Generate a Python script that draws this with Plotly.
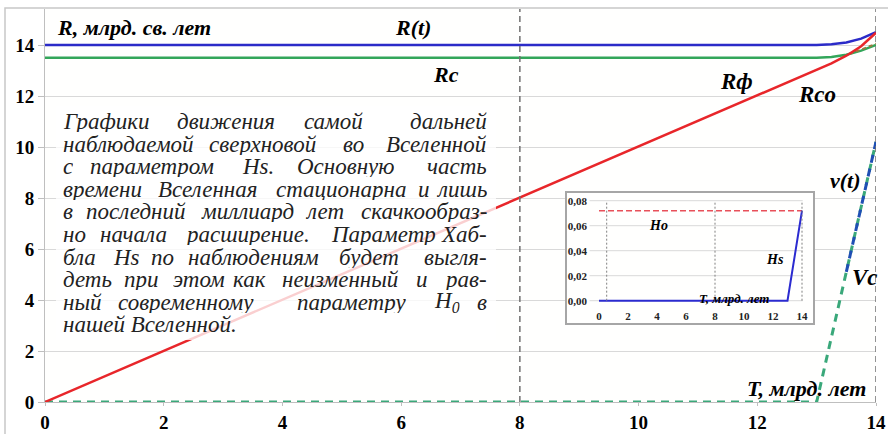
import plotly.graph_objects as go

W, H = 888, 434

# ---------------- data ----------------
t = [0, 1, 2, 3, 4, 5, 6, 7, 8, 9, 10, 11, 12, 13, 13.25, 13.5, 13.75, 14]
R_t = [14, 14, 14, 14, 14, 14, 14, 14, 14, 14, 14, 14, 14, 14.0, 14.03, 14.1, 14.25, 14.5]
Rc = [13.5, 13.5, 13.5, 13.5, 13.5, 13.5, 13.5, 13.5, 13.5, 13.5, 13.5, 13.5, 13.5, 13.5, 13.53, 13.62, 13.78, 14.0]
Rf = [0, 1, 2, 3, 4, 5, 6, 7, 8, 9, 10, 11, 12, 13.02, 13.28, 13.58, 13.95, 14.48]
Rco_t = [13.55, 13.75, 14]
Rco = [13.64, 13.82, 14.05]
Vc = [0, 0, 0, 0, 0, 0, 0, 0, 0, 0, 0, 0, 0, 0, 2.55, 5.1, 7.65, 10.2]
v_t = [None, None, None, None, None, None, None, None, None, None, None, None, None, None, None, 5.1, 7.65, 10.2]

x_ticks = [0, 2, 4, 6, 8, 10, 12, 14]
y_ticks = [0, 2, 4, 6, 8, 10, 12, 14]

# inset data
ti = [0, 2, 4, 6, 8, 10, 12, 13, 14]
Hs = [0, 0, 0, 0, 0, 0, 0, 0, 0.072]
H0_t = [0, 14]
H0 = [0.072, 0.072]
inset_x_ticks = [0, 2, 4, 6, 8, 10, 12, 14]
inset_y_ticks = [0.0, 0.02, 0.04, 0.06, 0.08]
inset_y_labels = ["0,00", "0,02", "0,04", "0,06", "0,08"]

text_lines = [
    "Графики движения самой дальней",
    "наблюдаемой сверхновой во Вселенной",
    "с параметром Hs. Основную часть",
    "времени Вселенная стационарна и лишь",
    "в последний миллиард лет скачкообраз-",
    "но начала расширение. Параметр Хаб-",
    "бла Hs по наблюдениям будет выгля-",
    "деть при этом как неизменный и рав-",
    "ный современному параметру H<sub>0</sub> в",
    "нашей Вселенной.",
]

# ---------------- helpers (pixel -> paper) ----------------
def px(x):
    return x / W

def py(y):
    return 1 - y / H

SERIF = "Liberation Serif"
BLUE = "#2b2bc8"
GREEN = "#33a65a"
RED = "#e8262a"
DGREEN = "#3aa87a"
DBLUE = "#1f4fb4"

fig = go.Figure()

# main traces
fig.add_trace(go.Scatter(x=t, y=Vc, mode="lines", line=dict(color=DGREEN, width=3, dash="8px,6px"), name="Vc"))
fig.add_trace(go.Scatter(x=t, y=v_t, mode="lines", line=dict(color=DBLUE, width=3, dash="8px,6px"), name="v(t)"))
fig.add_trace(go.Scatter(x=t, y=Rc, mode="lines", line=dict(color=GREEN, width=2.5), name="Rc"))
fig.add_trace(go.Scatter(x=t, y=R_t, mode="lines", line=dict(color=BLUE, width=2.5), name="R(t)"))
fig.add_trace(go.Scatter(x=Rco_t, y=Rco, mode="lines", line=dict(color="#9a7a40", width=2, dash="4px,3px"), name="Rco"))
fig.add_trace(go.Scatter(x=t, y=Rf, mode="lines", line=dict(color=RED, width=2.5), name="Rf"))

# inset gridlines (built from tick values)
gx, gy = [], []
for v in inset_y_ticks:
    gx += [-0.65, 14.05, None]
    gy += [v, v, None]
fig.add_trace(go.Scatter(x=gx, y=gy, mode="lines", line=dict(color="#d9d9d9", width=1),
                         xaxis="x2", yaxis="y2", hoverinfo="skip"))
fig.add_trace(go.Scatter(x=H0_t, y=H0, mode="lines", line=dict(color="#e8505a", width=1.5, dash="6px,3px"),
                         xaxis="x2", yaxis="y2"))
fig.add_trace(go.Scatter(x=ti, y=Hs, mode="lines", line=dict(color="#2b2bd0", width=2),
                         xaxis="x2", yaxis="y2"))

# ---------------- layout ----------------
tickfont = dict(family=SERIF, size=19, color="black")
itickfont = dict(family=SERIF, size=11, color="#222")
fig.update_layout(
    width=W, height=H,
    margin=dict(l=0, r=0, t=0, b=0, autoexpand=False),
    paper_bgcolor="white",
    plot_bgcolor="#fffffe",
    showlegend=False,
    xaxis=dict(domain=[px(45), px(876)], range=[0, 14], tickvals=x_ticks,
               ticktext=[f"<b>{v}</b>" for v in x_ticks], showgrid=False, automargin=False,
               zeroline=False, showline=True, linecolor="#bfbfbf", linewidth=1,
               ticks="outside", ticklen=3, tickcolor="#bfbfbf", tickfont=tickfont),
    yaxis=dict(domain=[py(402), py(9)], range=[0, 393 / 25.5], tickvals=y_ticks,
               ticktext=[f"<b>{v}</b>" for v in y_ticks], showgrid=True, automargin=False,
               gridcolor="#d9d9d9", gridwidth=1, zeroline=False, showline=True, linecolor="#bfbfbf",
               ticks="outside", ticklen=6, tickcolor="#bfbfbf", tickfont=tickfont),
    xaxis2=dict(domain=[px(567), px(813)], range=[-(599 - 567) / 14.5, (813 - 599) / 14.5],
                anchor="y2", tickvals=inset_x_ticks, ticktext=[f"<b>{v}</b>" for v in inset_x_ticks],
                showgrid=False, zeroline=False, automargin=False,
                showline=True, mirror=True, linecolor="#a6a6a6", linewidth=2, ticks="",
                ticklabelposition="inside", tickfont=itickfont),
    yaxis2=dict(domain=[py(323), py(193)], range=[-(323 - 300.7) / 1250, (300.7 - 193) / 1250],
                anchor="x2", tickvals=inset_y_ticks, ticktext=[f"<b>{s}</b>" for s in inset_y_labels],
                showgrid=False, zeroline=False, automargin=False,
                showline=True, mirror=True, linecolor="#a6a6a6", linewidth=2, ticks="",
                ticklabelposition="inside", tickfont=itickfont),
)

shapes = []
# outer chart border
shapes.append(dict(type="rect", xref="paper", yref="paper", x0=px(5), x1=1.05, y0=-0.05, y1=py(8),
                   line=dict(color="#c8c8c8", width=1.5), fillcolor="rgba(0,0,0,0)", layer="below"))
# main vertical dashed lines
for xv in [8, 14]:
    shapes.append(dict(type="line", xref="x", yref="paper", x0=xv, x1=xv, y0=py(402), y1=py(9),
                       line=dict(color="#707070", width=1.5, dash="6px,4px"), layer="above"))
# inset vertical dotted lines
for xv in [0.53, 8, 14]:
    shapes.append(dict(type="line", xref="x2", yref="y2", x0=xv, x1=xv, y0=0, y1=0.08,
                       line=dict(color="#808080", width=1, dash="2px,2px"), layer="above"))
# semi-transparent text box
shapes.append(dict(type="rect", xref="paper", yref="paper", x0=px(56), x1=px(496), y0=py(340), y1=py(106),
                   line=dict(width=0), fillcolor="rgba(255,255,255,0.78)", layer="above"))
fig.update_layout(shapes=shapes)

ann = []

def label(text, x, y, size=22, xanchor="center", color="black"):
    ann.append(dict(text=f"<b><i>{text}</i></b>", x=px(x), y=py(y), xref="paper", yref="paper",
                    showarrow=False, xanchor=xanchor, yanchor="middle",
                    font=dict(family=SERIF, size=size, color=color)))

label("R, млрд. св. лет", 55, 28, size=22, xanchor="left")
label("R(t)", 413, 28, size=22)
label("Rc", 446, 75, size=22)
label("Rф", 736, 81, size=23)
label("Rco", 817, 94, size=23)
label("v(t)", 845, 180, size=22)
label("Vc", 865, 277, size=23)
label("T, млрд. лет", 868, 388, size=22, xanchor="right")
label("Ho", 658, 225, size=14)
label("Hs", 775, 259, size=14)
label("T, млрд. лет", 734, 298, size=13)

# justified paragraph text
x_left, x_right = 62, 488
line_y0, line_dy = 121, 22.6
f = dict(family=SERIF, size=23, color="#222")
for i, line in enumerate(text_lines):
    yy = line_y0 + i * line_dy
    if i == len(text_lines) - 1:
        ann.append(dict(text=f"<i>{line}</i>", x=px(x_left), y=py(yy), xref="paper", yref="paper",
                        showarrow=False, xanchor="left", yanchor="middle", font=f,
                        height=22, borderpad=0))
        continue
    words = line.split(" ")
    plain = [w.replace("<sub>", "").replace("</sub>", "") for w in words]
    total = sum(len(w) for w in plain) + (len(words) - 1)
    pos = 0
    for k, w in enumerate(words):
        if k == len(words) - 1:
            xx, xa = x_right, "right"
        else:
            xx, xa = x_left + (x_right - x_left) * pos / total, "left"
        ann.append(dict(text=f"<i>{w}</i>", x=px(xx), y=py(yy), xref="paper", yref="paper",
                        showarrow=False, xanchor=xa, yanchor="middle", font=f,
                        height=22, borderpad=0))
        pos += len(plain[k]) + 1

fig.update_layout(annotations=ann)

fig.write_html("out.html", config={"displayModeBar": False},
               post_script="document.body.style.margin='0';document.body.style.overflow='hidden';")
